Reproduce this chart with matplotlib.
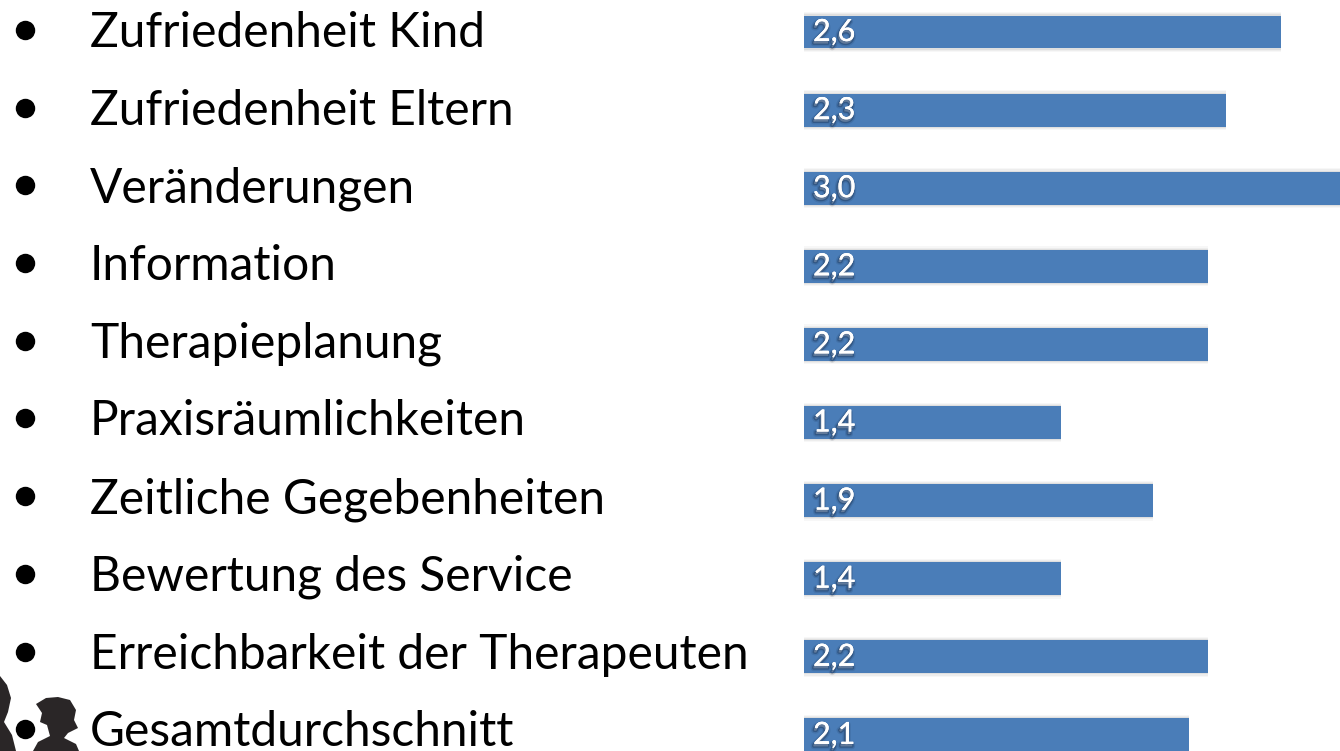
import numpy as np
import matplotlib
matplotlib.use("Agg")
import matplotlib.pyplot as plt
import matplotlib.patheffects as pe
from matplotlib.patches import Polygon
from matplotlib.transforms import blended_transform_factory

categories = ["Zufriedenheit Kind", "Zufriedenheit Eltern", "Veränderungen", "Information",
              "Therapieplanung", "Praxisräumlichkeiten", "Zeitliche Gegebenheiten",
              "Bewertung des Service", "Erreichbarkeit der Therapeuten", "Gesamtdurchschnitt"]
values = [2.6, 2.3, 3.0, 2.2, 2.2, 1.4, 1.9, 1.4, 2.2, 2.1]
value_labels = ["2,6", "2,3", "3,0", "2,2", "2,2", "1,4", "1,9", "1,4", "2,2", "2,1"]

W, H = 1340, 751
plt.rcParams["font.family"] = ["Lato", "DejaVu Sans"]

fig = plt.figure(figsize=(W / 100, H / 100), dpi=100)

# bars start at x=804 px, 183.5 px per unit, one row is 78 px
row = 78.1
top = 32.0
ax = fig.add_axes([804 / W, 0, 1 - 804 / W, 1])
ax.set_xlim(0, (W - 804) / 183.5)
ax.set_ylim((H - top) / row, -top / row)
ax.axis("off")

# soft grey shadow round the bars
pos = np.arange(len(values))
for grow, alpha in [(0.09, 0.04), (0.06, 0.05), (0.03, 0.08)]:
    ax.barh(pos, values, height=0.42 + grow, color="#444444", alpha=alpha, linewidth=0)
ax.barh(pos, values, height=0.42, color="#4a7db8", linewidth=0)

shadow = [pe.withStroke(linewidth=4, foreground="#0c1c36", alpha=0.12, offset=(-0.7, -1.8)),
          pe.withStroke(linewidth=2, foreground="#0c1c36", alpha=0.30, offset=(-0.7, -1.8)),
          pe.Normal()]
for i, lab in enumerate(value_labels):
    ax.annotate(lab, (0, i), xytext=(9, 0), textcoords="offset pixels", color="white",
                fontsize=22, va="center", ha="left", path_effects=shadow, clip_on=False)

# the text column has a slightly smaller row step than the bars
text_step = 77.7 / row
tr = blended_transform_factory(fig.transFigure, ax.transData)
for i, cat in enumerate(categories):
    ax.text(90 / W, i * text_step + 15 / row, cat, transform=tr, fontsize=34.5, va="baseline", ha="left",
            color="black", clip_on=False)
    ax.plot([25 / W], [i * text_step - 2 / row], "o", transform=tr, color="black", ms=14, mew=0,
            clip_on=False, zorder=5)

# children silhouettes in the bottom left corner
bg = fig.add_axes([0, 0, 1, 1], zorder=-1)
bg.set_xlim(0, W)
bg.set_ylim(H, 0)
bg.axis("off")
dark = "#2a2627"
bg.add_patch(Polygon([[36, 704], [46, 698], [58, 697], [70, 700], [76, 710], [74, 720], [78, 728], [68, 733],
                      [64, 738], [76, 744], [79, 751], [33, 751], [38, 742], [50, 736], [47, 725], [40, 722],
                      [42, 713]], color=dark, lw=0))
bg.add_patch(Polygon([[0, 676], [7, 685], [11, 698], [8, 712], [4, 722], [12, 735], [16, 751], [0, 751]],
                     color=dark, lw=0))

fig.savefig("out.png", dpi=100)
